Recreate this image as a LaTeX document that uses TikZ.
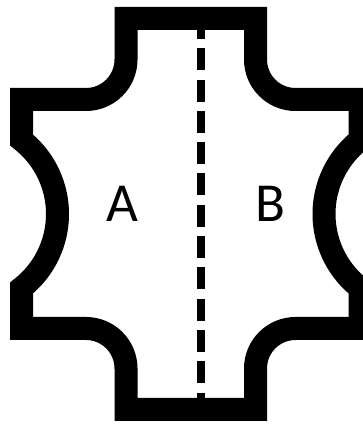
\documentclass[tikz,border=0pt]{standalone}
\usepackage{fontspec}
\setmainfont{Carlito}
\tikzset{
  outline/.style={line width=23pt, line join=miter, draw=black},
  cutline/.style={line width=8pt, draw=black, dash pattern=on 22pt off 9.3pt},
  lbl/.style={anchor=base, inner sep=0pt, font=\fontsize{55}{60}\selectfont}
}
\begin{document}
\begin{tikzpicture}[x=1pt,y=1pt]
\useasboundingbox (0,0) rectangle (363,424);
\clip (0,0) rectangle (363,424);
\coordinate (ct) at (201,407);
\coordinate (cb) at (201,15);
\draw[cutline] (ct) -- (cb);
\draw[outline] (126,405.5) -- (255.5,405.5) -- (255.5,364.5)
  arc[start angle=180, end angle=270, radius=40] -- (360,324.5) -- (360,284)
  arc[start angle=128.12, end angle=231.88, radius=94.06] -- (360,95.5) -- (295.5,95.5)
  arc[start angle=90, end angle=180, radius=40] -- (255.5,14.5) -- (126,14.5) -- (126,55.5)
  arc[start angle=0, end angle=90, radius=40] -- (21.5,95.5) -- (21.5,136)
  arc[start angle=-51.88, end angle=51.88, radius=94.06] -- (21.5,324.5) -- (86,324.5)
  arc[start angle=270, end angle=360, radius=40] -- cycle;
\node[lbl] (a) at (122.5,202) {A};
\node[lbl] (b) at (270,202) {B};
\end{tikzpicture}
\end{document}
